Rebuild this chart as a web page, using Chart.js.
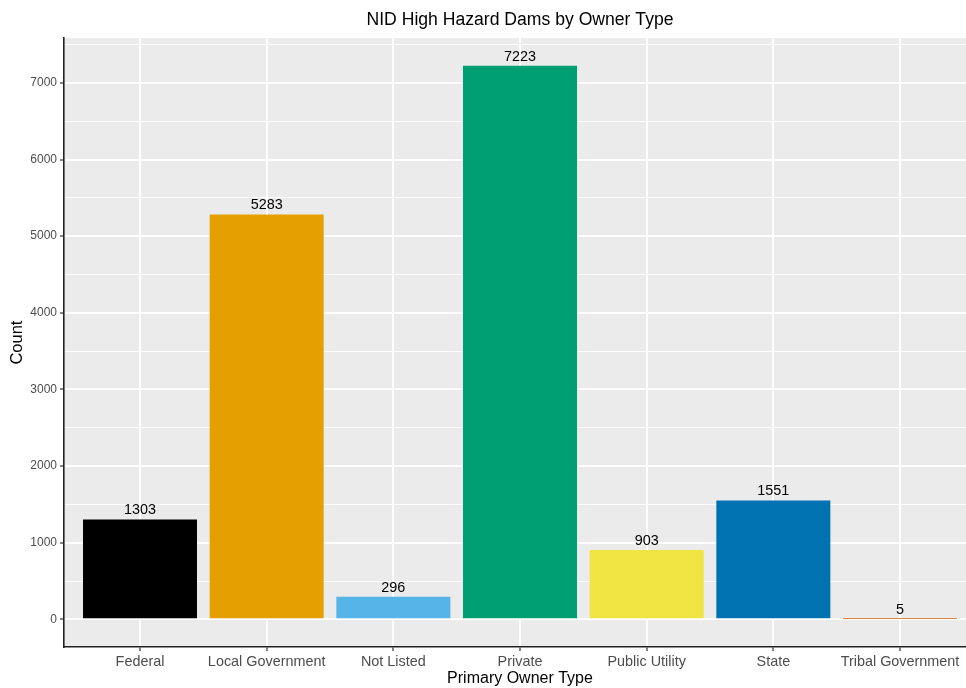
<!DOCTYPE html>
<html>
<head>
<meta charset="utf-8">
<title>NID High Hazard Dams by Owner Type</title>
<script src="https://cdn.jsdelivr.net/npm/chart.js@4/dist/chart.umd.min.js"></script>
<style>
  html, body { margin: 0; padding: 0; background: #ffffff; overflow: hidden; }
  #wrap { position: absolute; left: 0; top: 0; width: 986px; height: 688px; }
</style>
</head>
<body>
<div id="wrap"><canvas id="chart" width="986" height="688"></canvas></div>
<script>
// Dam counts per primary owner type
const categories = ['Federal', 'Local Government', 'Not Listed', 'Private', 'Public Utility', 'State', 'Tribal Government'];
const counts = [1303, 5283, 296, 7223, 903, 1551, 5];
const barColors = ['#000000', '#E69F00', '#56B4E9', '#009E73', '#F0E442', '#0072B2', '#D55E00'];
const yTicks = [0, 500, 1000, 1500, 2000, 2500, 3000, 3500, 4000, 4500, 5000, 5500, 6000, 6500, 7000, 7500];

const FONT = "'Liberation Sans', Arial, Helvetica, sans-serif";
const maxCount = Math.max(...counts);
const pad = maxCount * 0.05;

// grey panel behind the plotting area
const panelBg = {
  id: 'panelBg',
  beforeDraw(chart) {
    const { ctx, chartArea: a } = chart;
    ctx.save();
    ctx.fillStyle = '#ebebeb';
    ctx.fillRect(a.left, a.top, a.right - a.left, a.bottom - a.top);
    ctx.restore();
  }
};

// value printed above each bar
const barValues = {
  id: 'barValues',
  afterDatasetsDraw(chart) {
    const { ctx } = chart;
    const meta = chart.getDatasetMeta(0);
    ctx.save();
    ctx.font = '14.4px ' + FONT;
    ctx.fillStyle = '#000000';
    ctx.textAlign = 'center';
    ctx.textBaseline = 'alphabetic';
    meta.data.forEach((bar, i) => {
      ctx.fillText(String(counts[i]), bar.x, bar.y - 5);
    });
    ctx.restore();
  }
};

new Chart(document.getElementById('chart'), {
  type: 'bar',
  data: {
    datasets: [{
      data: counts.map((c, i) => ({ x: i + 1, y: c })),
      backgroundColor: barColors,
      borderWidth: 0,
      categoryPercentage: 0.9,
      barPercentage: 1.0
    }]
  },
  options: {
    responsive: false,
    devicePixelRatio: 1,
    animation: false,
    layout: { padding: { left: 0, right: 10, top: 0, bottom: 0 } },
    plugins: {
      legend: { display: false },
      tooltip: { enabled: false },
      title: {
        display: true,
        text: 'NID High Hazard Dams by Owner Type',
        fullSize: false,
        color: '#000000',
        font: { family: FONT, size: 17.6, weight: 'normal', lineHeight: 1.2 },
        padding: { top: 10, bottom: 7 }
      }
    },
    scales: {
      x: {
        type: 'linear',
        offset: false,
        min: 0.4,
        max: categories.length + 0.6,
        afterBuildTicks(scale) {
          scale.ticks = categories.map((_, i) => ({ value: i + 1 }));
        },
        afterFit(scale) { scale.height = 41; },
        ticks: {
          autoSkip: false,
          maxRotation: 0,
          padding: 2,
          color: '#4d4d4d',
          font: { family: FONT, size: 14.4 },
          callback: (v) => categories[v - 1]
        },
        grid: {
          offset: false,
          color: '#ffffff',
          lineWidth: 2,
          tickLength: 4,
          tickColor: '#333333',
          tickWidth: 1.2
        },
        border: { display: true, color: '#222222', width: 1.6 },
        title: {
          display: true,
          text: 'Primary Owner Type',
          color: '#000000',
          font: { family: FONT, size: 16, lineHeight: 1.2 },
          padding: { top: 0, bottom: 0 }
        }
      },
      y: {
        type: 'linear',
        min: -pad,
        max: maxCount + pad,
        afterBuildTicks(scale) {
          scale.ticks = yTicks.map(v => ({ value: v }));
        },
        afterFit(scale) { scale.width = 64; },
        ticks: {
          autoSkip: false,
          padding: 3,
          color: '#4d4d4d',
          font: { family: FONT, size: 12 },
          callback: (v) => (v % 1000 === 0 ? String(v) : '')
        },
        grid: {
          color: '#ffffff',
          lineWidth: (c) => (c.tick && c.tick.value % 1000 === 0 ? 2 : 1),
          tickLength: 4,
          tickColor: (c) => (c.tick && c.tick.value % 1000 === 0 ? '#333333' : 'rgba(0,0,0,0)'),
          tickWidth: 1.2
        },
        border: { display: true, color: '#222222', width: 1.6 },
        title: {
          display: true,
          text: 'Count',
          color: '#000000',
          font: { family: FONT, size: 16.5, lineHeight: 1.2 },
          padding: { top: 8, bottom: 0 }
        }
      }
    }
  },
  plugins: [panelBg, barValues]
});
</script>
</body>
</html>
